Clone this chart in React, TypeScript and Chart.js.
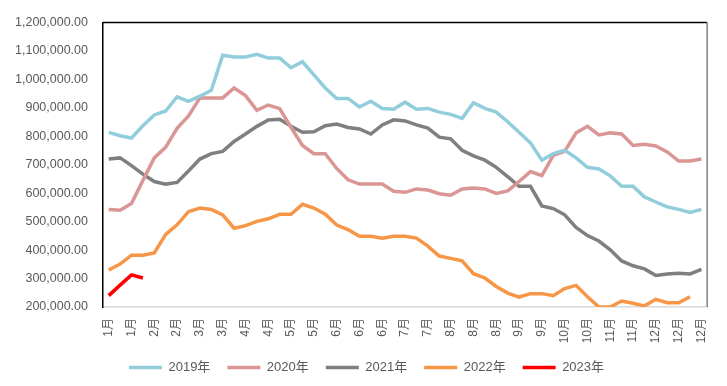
import React, { useEffect, useRef } from "react";
import { Chart, registerables } from "chart.js";

Chart.register(...registerables);

const tickMonths = [1, 1, 2, 2, 3, 3, 4, 4, 5, 5, 6, 6, 6, 7, 7, 8, 8, 8, 9, 9, 10, 10, 11, 11, 12, 12, 12];
const labels: string[] = [];
tickMonths.forEach((m, k) => {
  labels.push(m + "月");
  if (k < tickMonths.length - 1) labels.push(m + "月");
});

const s2019 = [814, 802, 794, 837, 875, 889, 939, 923, 941, 962, 1085, 1079, 1079, 1088, 1075, 1075, 1041, 1062,
  1016, 970, 933, 933, 903, 923, 898, 895, 920, 895, 898, 885, 877, 863, 918, 898, 885, 851,
  814, 777, 716, 739, 751, 724, 691, 685, 661, 624, 624, 587, 569, 552, 543, 532, 543];
const s2020 = [543, 540, 564, 645, 724, 762, 828, 872, 935, 935, 935, 970, 943, 891, 910, 897, 831, 768,
  739, 739, 687, 647, 632, 632, 632, 607, 603, 615, 611, 598, 593, 615, 618, 615, 599, 608,
  641, 676, 662, 733, 747, 812, 835, 805, 812, 808, 768, 772, 766, 745, 713, 713, 720];
const s2021 = [720, 724, 697, 667, 641, 632, 638, 678, 720, 739, 747, 782, 808, 835, 857, 860, 835, 814,
  816, 837, 843, 831, 826, 808, 840, 858, 854, 840, 829, 797, 791, 751, 731, 716, 691, 658,
  624, 624, 555, 546, 524, 480, 451, 432, 401, 362, 345, 334, 311, 316, 319, 316, 332];
const s2022 = [330, 351, 382, 382, 390, 455, 489, 535, 548, 543, 524, 477, 486, 501, 510, 526, 526, 561,
  548, 526, 488, 472, 449, 449, 442, 449, 449, 442, 414, 379, 371, 362, 317, 302, 272, 249,
  235, 247, 247, 240, 265, 276, 236, 200, 200, 221, 213, 204, 227, 215, 215, 236];
const s2023 = [240, 277, 313, 302];

const seriesNames = ["2019年", "2020年", "2021年", "2022年", "2023年"];
const seriesColors = ["#92CDDC", "#DA9694", "#7F7F7F", "#F79646", "#FF0000"];
const seriesData = [s2019, s2020, s2021, s2022, s2023];

const yMin = 200000;
const yMax = 1200000;
const yStep = 100000;

const FONT = "'Liberation Sans', 'Noto Sans CJK SC', sans-serif";

const framePlugin = {
  id: "frame",
  afterLayout(chart: any) {
    if (chart.legend) {
      chart.legend.left += 11;
      chart.legend.right += 11;
    }
  },
  beforeDatasetsDraw(chart: any) {
    const { ctx, chartArea } = chart;
    const { left, right, top, bottom } = chartArea;
    ctx.save();
    ctx.lineWidth = 1.5;
    ctx.strokeStyle = "#000000";
    ctx.beginPath();
    ctx.moveTo(left, top);
    ctx.lineTo(right, top);
    ctx.stroke();
    ctx.strokeStyle = "#808080";
    ctx.beginPath();
    ctx.moveTo(right, top);
    ctx.lineTo(right, bottom);
    ctx.stroke();
    ctx.restore();
  },
};

export default function App() {
  const ref = useRef<HTMLCanvasElement | null>(null);
  useEffect(() => {
    if (!ref.current) return;
    const chart = new Chart(ref.current, {
      type: "line",
      data: {
        labels,
        datasets: seriesData.map((d, i) => ({
          label: seriesNames[i],
          data: d.map((v) => v * 1000),
          borderColor: seriesColors[i],
          backgroundColor: seriesColors[i],
          borderWidth: 3.5,
          pointRadius: 0,
          pointHoverRadius: 0,
          tension: 0,
          fill: false,
        })),
      },
      options: {
        responsive: false,
        animation: false,
        layout: { padding: { left: 0, top: 17, right: 16, bottom: 2 } },
        plugins: {
          tooltip: { enabled: false },
          legend: {
            position: "bottom",
            labels: {
              usePointStyle: true,
              pointStyle: "line",
              pointStyleWidth: 33,
              font: { family: FONT, size: 13 },
              color: "#595959",
              padding: 17,
            },
          },
        },
        scales: {
          x: {
            offset: true,
            grid: { display: false, drawTicks: false },
            border: { display: true, color: "#D9D9D9", width: 1.5 },
            afterFit: (scale: any) => {
              scale.height = 37;
            },
            ticks: {
              autoSkip: false,
              minRotation: 90,
              maxRotation: 90,
              padding: 11,
              font: { family: FONT, size: 12 },
              color: "#595959",
              callback: (_v: any, idx: number) => (idx % 2 === 0 ? labels[idx] : ""),
            },
          },
          y: {
            min: yMin,
            max: yMax,
            grid: { display: false, drawTicks: false },
            border: { display: true, color: "#000000", width: 1.5 },
            afterFit: (scale: any) => {
              scale.width = 103;
            },
            ticks: {
              stepSize: yStep,
              padding: 15,
              font: { family: FONT, size: 12.5 },
              color: "#595959",
              callback: (v: any) =>
                Number(v).toLocaleString("en-US", { minimumFractionDigits: 2, maximumFractionDigits: 2 }),
            },
          },
        },
      },
      plugins: [framePlugin],
    });
    return () => chart.destroy();
  }, []);
  return (
    <div style={{ position: "absolute", left: 0, top: 0, width: 727, height: 386, background: "#fff" }}>
      <canvas ref={ref} width={727} height={386} />
    </div>
  );
}
